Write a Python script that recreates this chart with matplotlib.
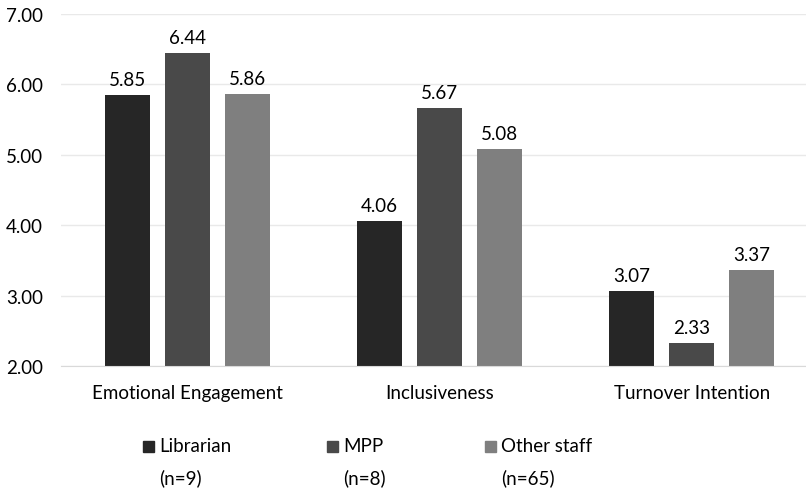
import numpy as np
import matplotlib.pyplot as plt
from matplotlib.patches import Rectangle

categories = ["Emotional Engagement", "Inclusiveness", "Turnover Intention"]
series_names = ["Librarian", "MPP", "Other staff"]
series_counts = ["(n=9)", "(n=8)", "(n=65)"]
librarian = [5.85, 4.06, 3.07]
mpp = [6.44, 5.67, 2.33]
other_staff = [5.86, 5.08, 3.37]
yticks = [2.0, 3.0, 4.0, 5.0, 6.0, 7.0]

colors = ["#262626", "#494949", "#7f7f7f"]
plt.rcParams['font.family'] = ['Lato', 'DejaVu Sans']

fig = plt.figure(figsize=(8.06, 4.89), dpi=100)
W, H = 806, 489
ax = fig.add_axes([61 / W, 1 - 367 / H, (806 - 61) / W, (367 - 15) / H])

x = np.arange(len(categories))
width = 0.179
step = 0.238
for i, (vals, c) in enumerate(zip([librarian, mpp, other_staff], colors)):
    bars = ax.bar(x + (i - 1) * step, np.array(vals) - 2.0, width, bottom=2.0,
                  color=c, zorder=3)
    for b, v in zip(bars, vals):
        ax.annotate("{:.2f}".format(v), (b.get_x() + b.get_width() / 2, v),
                    xytext=(0, 5), textcoords="offset points",
                    ha="center", va="bottom", fontsize=13.5, color="#000000")

ax.set_ylim(2, 7)
ax.set_xlim(-0.5, 2.5 - 12 / 252)
ax.set_yticks(yticks)
ax.set_yticklabels(["{:.2f}".format(t) for t in yticks], fontsize=13.5)
ax.set_xticks(x)
ax.set_xticklabels(categories, fontsize=13.5)
ax.tick_params(axis="y", length=0, pad=13)
ax.tick_params(axis="x", length=0, pad=13)
ax.grid(axis="y", color="#e9e9e9", linewidth=1, zorder=0)
for s in ["top", "right", "left"]:
    ax.spines[s].set_visible(False)
ax.spines["bottom"].set_color("#d9d9d9")
ax.spines["bottom"].set_zorder(4)

# legend drawn by hand so the square sits beside the first line
leg_x = [143, 327, 485]
for lx, name, cnt, c in zip(leg_x, series_names, series_counts, colors):
    fig.patches.append(Rectangle((lx / W, 1 - 453 / H), 11 / W, 11 / H,
                                 transform=fig.transFigure, color=c))
    fig.text((lx + 16) / W, 1 - 447 / H, name, fontsize=13.5, va="center")
    fig.text((lx + 16) / W, 1 - 478 / H, cnt, fontsize=13.5, va="center")

fig.savefig("out.png", dpi=100)
